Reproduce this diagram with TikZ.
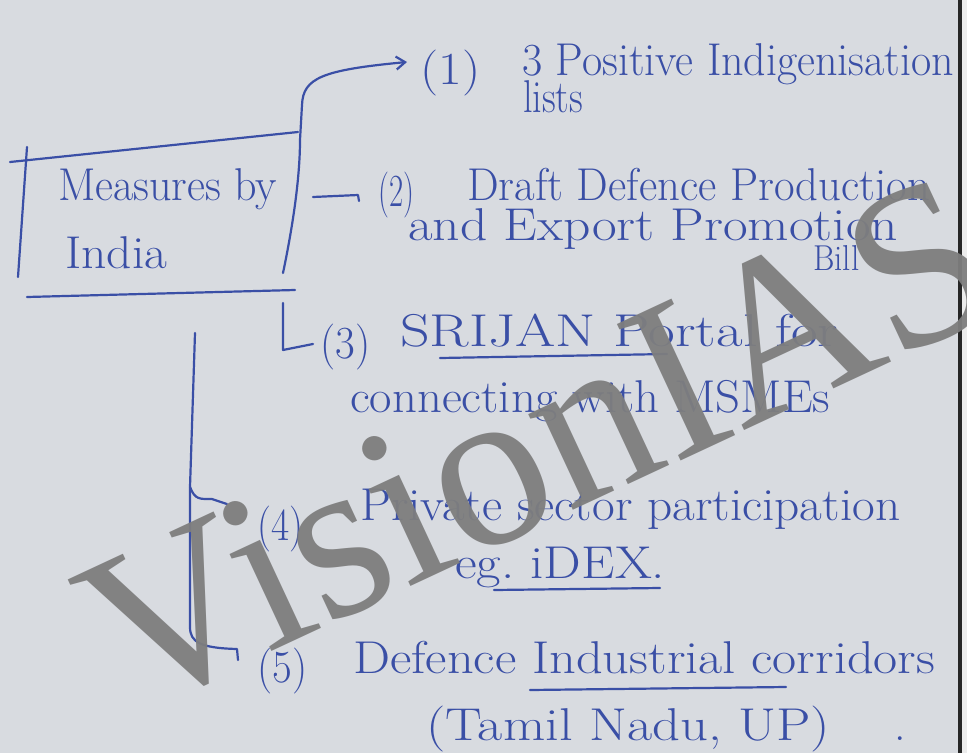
\documentclass[tikz,border=0pt]{standalone}
\usepackage{fontspec}
\usepackage{graphicx}
\newfontfamily\wmfont{Liberation Serif}
\usetikzlibrary{arrows.meta}
\definecolor{paper}{HTML}{D8DBE0}
\definecolor{ink}{HTML}{3A4FA6}
\definecolor{wmgray}{HTML}{7E7E7E}
\newcommand\fitto[2]{\resizebox{#1pt}{\height}{#2}}
\tikzset{
  hw/.style={text=ink, font=\fontsize{46}{52}\selectfont, inner sep=0pt, anchor=base west},
  hwsmall/.style={hw, font=\fontsize{36}{40}\selectfont},
  pen/.style={draw=ink, line width=2.2pt, line cap=round, line join=round},
  tip/.style={-{Straight Barb[length=9pt,width=13pt,line width=2.2pt]}},
}
\begin{document}
\begin{tikzpicture}[x=1pt,y=-1pt]
\fill[paper] (0,0) rectangle (967,753);
\useasboundingbox (0,0) rectangle (967,753);
\fill[black!85] (958,0) rectangle (962,753);
\fill[gray!15] (962,0) rectangle (967,753);

% ---- box "Measures by India"
\node[hw] (m1) at (58,200) {\fitto{219}{Measures by}};
\node[hw] (m2) at (65,268) {\fitto{102}{India}};
\coordinate (bTL) at (10,162);
\coordinate (bTR) at (298,132);
\coordinate (bLT) at (27,147);
\coordinate (bLB) at (18,277);
\coordinate (bRB) at (283,273);
\coordinate (bRT) at (300,140);
\coordinate (uL) at (27,297);
\coordinate (uR) at (295,290);
\draw[pen] (bTL) -- (bTR);
\draw[pen] (bLT) -- (bLB);
\draw[pen] (uL) -- (uR);

% ---- items
\node[hw] (n1) at (420,84) {\fitto{60}{(1)}};
\node[hw] (t1) at (522,75) {\fitto{432}{3 Positive Indigenisation}};
\node[hw] (t1b) at (523,112) {\fitto{60}{lists}};

\node[hw] (n2) at (378,206) {\fitto{36}{(2)}};
\node[hw] (t2) at (467,200) {\fitto{463}{Draft Defence Production}};
\node[hw] (t2b) at (408,240) {\fitto{490}{and Export Promotion}};
\node[hwsmall] (t2c) at (813,270) {\fitto{46}{Bill}};

\node[hw] (n3) at (320,358) {\fitto{50}{(3)}};
\node[hw] (t3) at (400,346) {\fitto{438}{SRIJAN Portal for}};
\node[hw] (t3b) at (350,412) {\fitto{480}{connecting with MSMEs}};

\node[hw] (n4) at (257,540) {\fitto{46}{(4)}};
\node[hw] (t4) at (360,520) {\fitto{540}{Private sector participation}};
\node[hw] (t4b) at (455,578) {\fitto{210}{eg.\ iDEX.}};

\node[hw] (n5) at (257,682) {\fitto{50}{(5)}};
\node[hw] (t5) at (353,673) {\fitto{582}{Defence Industrial corridors}};
\node[hw] (t5b) at (426,740) {\fitto{404}{(Tamil Nadu, UP)}\hspace{64pt}.};

% ---- connectors
\coordinate (a1) at (407,62);
\draw[pen,tip] (bRB) .. controls (292,230) and (300,180) .. (bRT) -- (302,105)
   .. controls (303,78) and (322,70) .. (a1);

\coordinate (d2a) at (313,197);
\coordinate (d2b) at (358,195);
\draw[pen] (d2a) -- (d2b) -- ++(1,6);

\coordinate (h3a) at (283,303);
\coordinate (h3b) at (283,350);
\coordinate (h3c) at (313,344);
\draw[pen] (h3a) -- (h3b) -- (h3c);

\coordinate (vTop) at (195,333);
\coordinate (vMid) at (190,487);
\coordinate (vBot) at (190,627);
\coordinate (e4) at (227,504);
\coordinate (e5) at (237,649);
\draw[pen] (vTop) -- (vMid) -- (vBot) .. controls (190,642) and (200,648) .. (e5) -- ++(1,11);
\draw[pen] (vMid) .. controls (195,500) and (200,499) .. (212,499) -- (e4);

% underlines
\draw[pen] (440,358) -- (667,354);
\draw[pen] (494,590) -- (660,588);
\draw[pen] (530,690) -- (786,687);

% ---- watermark
\node[text=wmgray, font=\wmfont\fontsize{230}{230}\selectfont, rotate=25, inner sep=0pt, opacity=0.95] (wm) at (538,445) {VisionIAS};
\end{tikzpicture}
\end{document}
